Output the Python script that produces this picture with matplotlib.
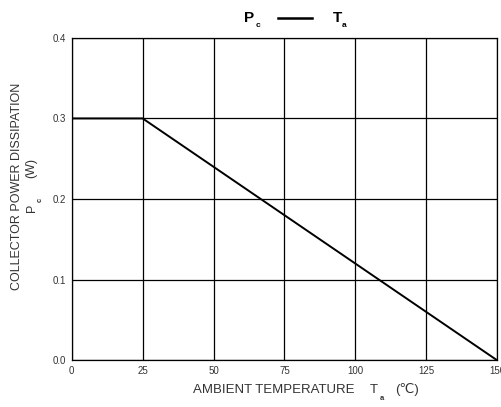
import matplotlib.pyplot as plt
from matplotlib.lines import Line2D

plt.rcParams['font.family'] = ['Liberation Sans', 'DejaVu Sans']

# Pc - Ta derating curve
temp = [0, 25, 150]
power = [0.3, 0.3, 0.0]

x_ticks = [0, 25, 50, 75, 100, 125, 150]
y_ticks = [0.0, 0.1, 0.2, 0.3, 0.4]

fig = plt.figure(figsize=(5.02, 4.07), dpi=100)
ax = fig.add_axes([0.143, 0.115, 0.847, 0.792])

ax.plot(temp, power, color='black', linewidth=1.4, zorder=3)

ax.set_xlim(0, 150)
ax.set_ylim(0, 0.4)
ax.set_xticks(x_ticks)
ax.set_yticks(y_ticks)
ax.set_yticklabels(['%.1f' % v for v in y_ticks])
ax.tick_params(length=0, labelsize=7, colors='#333333', pad=4)
ax.grid(color='black', linewidth=0.9)
for s in ax.spines.values():
    s.set_linewidth(0.9)

# title "Pc —— Ta"
fig.text(0.497, 0.955, 'P', ha='center', va='center', fontsize=11, fontweight='bold')
fig.text(0.514, 0.937, 'c', ha='center', va='center', fontsize=6, fontweight='bold')
fig.add_artist(Line2D([0.554, 0.622], [0.955, 0.955], color='black', linewidth=1.8,
                      transform=fig.transFigure))
fig.text(0.672, 0.955, 'T', ha='center', va='center', fontsize=11, fontweight='bold')
fig.text(0.685, 0.937, 'a', ha='center', va='center', fontsize=6, fontweight='bold')

lab = dict(color='#333333', ha='center', va='center')

# x label pieces
fig.text(0.546, 0.042, 'AMBIENT TEMPERATURE', fontsize=9.5, **lab)
fig.text(0.745, 0.042, 'T', fontsize=9.5, **lab)
fig.text(0.761, 0.022, 'a', fontsize=5.5, fontweight='bold', **lab)
fig.text(0.811, 0.042, '(℃)', fontsize=9.5, **lab)

# y label pieces
fig.text(0.034, 0.543, 'COLLECTOR POWER DISSIPATION', rotation=90, fontsize=9, **lab)
fig.text(0.062, 0.587, '(W)', rotation=90, fontsize=9, **lab)
fig.text(0.064, 0.489, 'P', rotation=90, fontsize=9, **lab)
fig.text(0.080, 0.509, 'c', rotation=90, fontsize=5.5, fontweight='bold', **lab)

fig.savefig('out.png', dpi=100)
